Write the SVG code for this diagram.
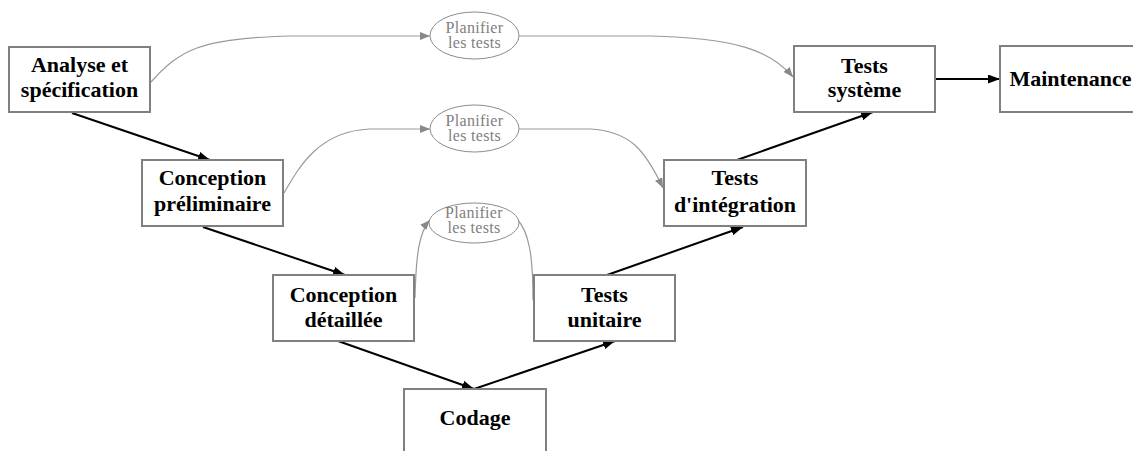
<svg xmlns="http://www.w3.org/2000/svg" width="1133" height="451" viewBox="0 0 1133 451">
<style>
.box{fill:#fff;stroke:#808080;stroke-width:2}
.t{font-family:"Liberation Serif","Times New Roman",serif;font-weight:bold;font-size:22px;fill:#000;text-anchor:middle}
.ell{fill:#fff;stroke:#8c8c8c;stroke-width:1}
.et{font-family:"Liberation Serif","Times New Roman",serif;font-size:16px;fill:#808080;text-anchor:middle;letter-spacing:0.3px}
.blk{fill:none;stroke:#000;stroke-width:2}
.gry{fill:none;stroke:#999;stroke-width:1.2}
</style>
<defs>
<marker id="ab" markerUnits="userSpaceOnUse" markerWidth="12" markerHeight="9" refX="12" refY="4.5" orient="auto"><path d="M0,0 L12,4.5 L0,9 z" fill="#000"/></marker>
<marker id="ag" markerUnits="userSpaceOnUse" markerWidth="10" markerHeight="8" refX="10" refY="4" orient="auto"><path d="M0,0 L10,4 L0,8 z" fill="#888"/></marker>
</defs>
<rect width="1133" height="451" fill="#fff"/>
<g id="connectors">
<path class="blk" d="M72,113 L210,160" marker-end="url(#ab)"/>
<path class="blk" d="M203,227 L345,275" marker-end="url(#ab)"/>
<path class="blk" d="M338,341 L474,389" marker-end="url(#ab)"/>
<path class="blk" d="M474,389 L615,341" marker-end="url(#ab)"/>
<path class="blk" d="M607,275 L743,227" marker-end="url(#ab)"/>
<path class="blk" d="M737,160 L873,112" marker-end="url(#ab)"/>
<path class="blk" d="M936,79 L1000,79" marker-end="url(#ab)"/>
<path class="gry" d="M151,82 C180,50 200,38 290,36 L430,36" marker-end="url(#ag)"/>
<path class="gry" d="M519,36 L650,36 C735,38 770,50 793,77" marker-end="url(#ag)"/>
<path class="gry" d="M284,193 C300,165 320,131 370,129 L430,129" marker-end="url(#ag)"/>
<path class="gry" d="M519,129 L590,129 C630,131 645,150 663,188" marker-end="url(#ag)"/>
<path class="gry" d="M415,298 C416,255 419,232 430,220" marker-end="url(#ag)"/>
<path class="gry" d="M517,219 C529,232 533,255 533,300"/>
</g>
<g id="plan1"><ellipse class="ell" cx="474.5" cy="35.5" rx="44.5" ry="23.5"/><text class="et" x="474.5" y="33">Planifier</text><text class="et" x="474.5" y="48">les tests</text></g>
<g id="plan2"><ellipse class="ell" cx="474.5" cy="128.5" rx="44.5" ry="23.5"/><text class="et" x="474.5" y="126">Planifier</text><text class="et" x="474.5" y="141">les tests</text></g>
<g id="plan3"><ellipse class="ell" cx="474" cy="223" rx="45" ry="20"/><text class="et" x="474" y="218">Planifier</text><text class="et" x="474" y="233">les tests</text></g>
<g id="analyse"><rect class="box" x="9" y="47" width="141" height="65"/><text class="t" x="79.5" y="72">Analyse et</text><text class="t" x="79.5" y="97">spécification</text></g>
<g id="prelim"><rect class="box" x="142" y="160" width="141" height="66"/><text class="t" x="212.5" y="185">Conception</text><text class="t" x="212.5" y="211">préliminaire</text></g>
<g id="detail"><rect class="box" x="273" y="275" width="141" height="66"/><text class="t" x="343.5" y="302">Conception</text><text class="t" x="343.5" y="327">détaillée</text></g>
<g id="codage"><rect class="box" x="404" y="389" width="142" height="70"/><text class="t" x="475" y="425">Codage</text></g>
<g id="unitaire"><rect class="box" x="534" y="275" width="141" height="66"/><text class="t" x="604.5" y="302">Tests</text><text class="t" x="604.5" y="327">unitaire</text></g>
<g id="integration"><rect class="box" x="664" y="160" width="142" height="66"/><text class="t" x="735" y="185">Tests</text><text class="t" x="735" y="212">d'intégration</text></g>
<g id="systeme"><rect class="box" x="794" y="46" width="141" height="66"/><text class="t" x="864.5" y="73">Tests</text><text class="t" x="864.5" y="97">système</text></g>
<g id="maintenance"><rect class="box" x="1000" y="46" width="141" height="66"/><text class="t" x="1070.5" y="86">Maintenance</text></g>
</svg>
